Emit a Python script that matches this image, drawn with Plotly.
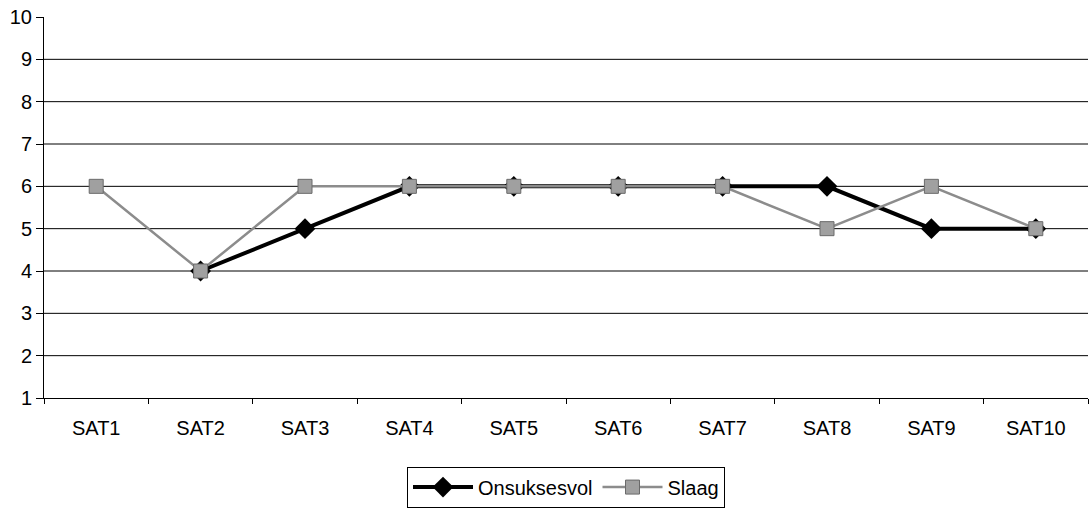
import plotly.graph_objects as go

categories = ["SAT1", "SAT2", "SAT3", "SAT4", "SAT5", "SAT6", "SAT7", "SAT8", "SAT9", "SAT10"]
onsuksesvol = [None, 4, 5, 6, 6, 6, 6, 6, 5, 5]
slaag = [6, 4, 6, 6, 6, 6, 6, 5, 6, 5]
y_ticks = [1, 2, 3, 4, 5, 6, 7, 8, 9, 10]
grid_levels = [2, 3, 4, 5, 6, 7, 8, 9]

fig = go.Figure()
fig.add_trace(go.Scatter(
    x=categories, y=onsuksesvol, name="Onsuksesvol", mode="lines+markers",
    line=dict(color="#000000", width=4),
    marker=dict(symbol="diamond", size=16, color="#000000"),
))
fig.add_trace(go.Scatter(
    x=categories, y=slaag, name="Slaag", mode="lines+markers",
    line=dict(color="#8c8c8c", width=2.5),
    marker=dict(symbol="square", size=14, color="#a0a0a0", line=dict(color="#6a6a6a", width=1)),
))

for g in grid_levels:
    fig.add_shape(type="line", xref="paper", x0=0, x1=1, yref="y", y0=g, y1=g,
                  line=dict(color="#000000", width=1), layer="below")

fig.update_layout(
    width=1089, height=508,
    margin=dict(l=44, r=1, t=17, b=107),
    paper_bgcolor="white", plot_bgcolor="white",
    font=dict(family="Liberation Sans, Arial, sans-serif", size=20, color="#000000"),
    showlegend=True,
    legend=dict(
        orientation="h", x=0.5, xanchor="center", y=-0.18, yanchor="top",
        bordercolor="#000000", borderwidth=1, font=dict(size=20),
        itemwidth=60, tracegroupgap=0,
    ),
    xaxis=dict(
        type="category", range=[-0.5, 9.5], showgrid=False,
        showline=True, linecolor="#000000", linewidth=1,
        ticks="outside", tickson="boundaries", ticklen=5, tickcolor="#000000",
        tickfont=dict(size=20), zeroline=False, ticklabelstandoff=12,
    ),
    yaxis=dict(
        range=[1, 10], tickvals=y_ticks,
        showgrid=False,
        showline=True, linecolor="#000000", linewidth=1,
        ticks="outside", ticklen=7, tickcolor="#000000",
        tickfont=dict(size=20), zeroline=False,
    ),
)

fig.write_html("out.html")
